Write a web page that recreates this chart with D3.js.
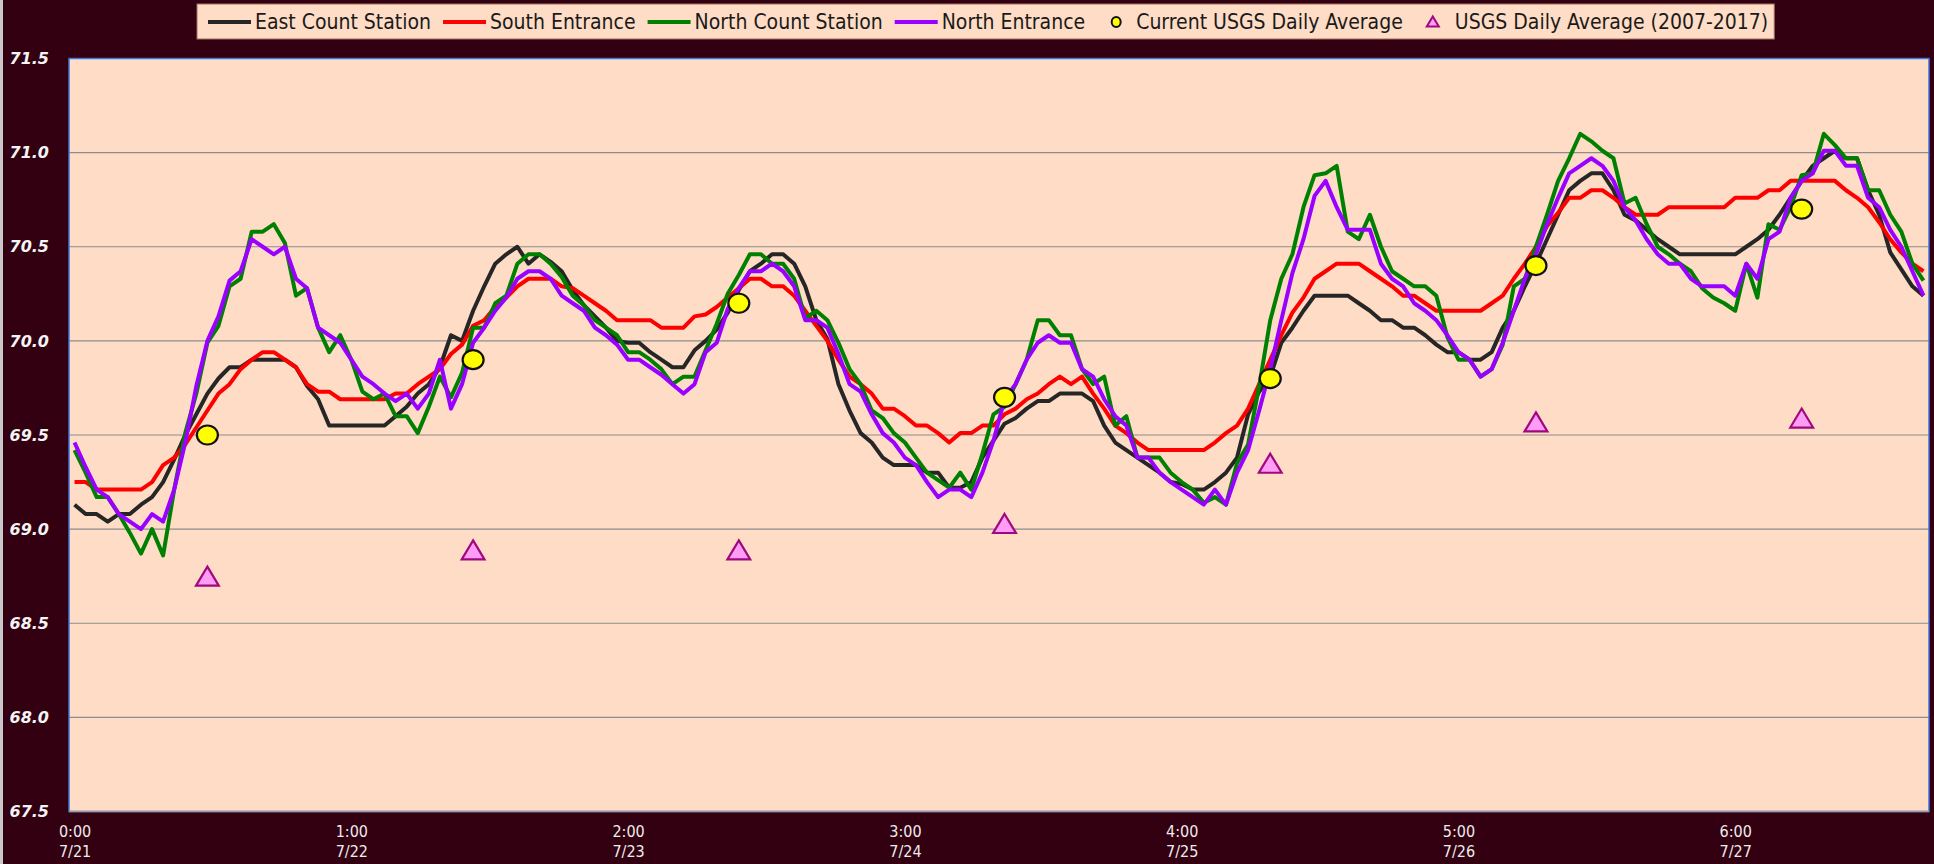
<!DOCTYPE html>
<html>
<head>
<meta charset="utf-8">
<script src="https://cdn.jsdelivr.net/npm/d3@7/dist/d3.min.js"></script>
<style>
  html, body { margin: 0; padding: 0; background: #320010; overflow: hidden; }
  svg { display: block; }
</style>
</head>
<body>
<script>
// hourly readings, 7/21 0:00 through 7/27 23:00

var eastCount = [
  69.13, 69.08, 69.08, 69.04, 69.08, 69.08, 69.13, 69.17, 69.25, 69.37, 69.50, 69.61, 69.72, 69.80, 69.86, 69.86, 69.90, 69.90, 69.90, 69.90, 69.86, 69.76, 69.69, 69.55, 69.55, 69.55, 69.55, 69.55, 69.55,
  69.60, 69.65, 69.72, 69.77, 69.86, 70.03, 70.00, 70.16, 70.29, 70.41, 70.46, 70.50, 70.41, 70.46, 70.42, 70.37, 70.27, 70.19, 70.13, 70.07, 70.00, 69.99, 69.99, 69.94, 69.90, 69.86, 69.86, 69.95,
  70.00, 70.06, 70.15, 70.27, 70.37, 70.41, 70.46, 70.46, 70.41, 70.29, 70.11, 70.01, 69.77, 69.63, 69.51, 69.46, 69.38, 69.34, 69.34, 69.34, 69.30, 69.30, 69.22, 69.22, 69.25, 69.38, 69.47, 69.56,
  69.59, 69.64, 69.68, 69.68, 69.72, 69.72, 69.72, 69.68, 69.55, 69.46, 69.42, 69.38, 69.34, 69.30, 69.25, 69.24, 69.21, 69.21, 69.25, 69.30, 69.38, 69.61, 69.73, 69.81, 69.99, 70.07, 70.16, 70.24,
  70.24, 70.24, 70.24, 70.20, 70.16, 70.11, 70.11, 70.07, 70.07, 70.03, 69.98, 69.94, 69.94, 69.90, 69.90, 69.94, 70.07, 70.16, 70.29, 70.41, 70.54, 70.67, 70.80, 70.85, 70.89, 70.89, 70.80, 70.67,
  70.64, 70.59, 70.54, 70.50, 70.46, 70.46, 70.46, 70.46, 70.46, 70.46, 70.50, 70.54, 70.59, 70.67, 70.76, 70.85, 70.93, 70.97, 71.01, 70.97, 70.97, 70.80, 70.67, 70.47, 70.38, 70.29, 70.24
];

var southEntrance = [
  69.25, 69.25, 69.21, 69.21, 69.21, 69.21, 69.21, 69.25, 69.34, 69.38, 69.45, 69.54, 69.63, 69.72, 69.77, 69.85, 69.90, 69.94, 69.94, 69.90, 69.86, 69.77, 69.73, 69.73, 69.69, 69.69, 69.69, 69.69, 69.69,
  69.72, 69.72, 69.77, 69.81, 69.85, 69.93, 69.98, 70.08, 70.11, 70.18, 70.23, 70.29, 70.33, 70.33, 70.33, 70.29, 70.28, 70.24, 70.20, 70.16, 70.11, 70.11, 70.11, 70.11, 70.07, 70.07, 70.07, 70.13,
  70.14, 70.18, 70.23, 70.28, 70.33, 70.33, 70.29, 70.29, 70.24, 70.16, 70.08, 70.00, 69.90, 69.81, 69.77, 69.72, 69.64, 69.64, 69.60, 69.55, 69.55, 69.51, 69.46, 69.51, 69.51, 69.55, 69.55, 69.61,
  69.64, 69.69, 69.72, 69.77, 69.81, 69.77, 69.81, 69.72, 69.64, 69.55, 69.51, 69.46, 69.42, 69.42, 69.42, 69.42, 69.42, 69.42, 69.46, 69.51, 69.55, 69.64, 69.77, 69.90, 70.03, 70.15, 70.23, 70.33,
  70.37, 70.41, 70.41, 70.41, 70.37, 70.33, 70.29, 70.24, 70.24, 70.20, 70.16, 70.16, 70.16, 70.16, 70.16, 70.20, 70.24, 70.33, 70.41, 70.50, 70.61, 70.68, 70.76, 70.76, 70.80, 70.80, 70.76, 70.71,
  70.67, 70.67, 70.67, 70.71, 70.71, 70.71, 70.71, 70.71, 70.71, 70.76, 70.76, 70.76, 70.80, 70.80, 70.85, 70.85, 70.85, 70.85, 70.85, 70.80, 70.76, 70.71, 70.63, 70.54, 70.47, 70.41, 70.37
];

var northCount = [
  69.42, 69.30, 69.17, 69.17, 69.08, 68.98, 68.87, 69.00, 68.86, 69.21, 69.51, 69.72, 69.99, 70.08, 70.29, 70.33, 70.58, 70.58, 70.62, 70.52, 70.24, 70.28, 70.07, 69.94, 70.03, 69.90, 69.73, 69.69, 69.72,
  69.60, 69.60, 69.51, 69.65, 69.81, 69.70, 69.83, 70.07, 70.07, 70.20, 70.24, 70.41, 70.46, 70.46, 70.41, 70.34, 70.24, 70.19, 70.11, 70.07, 70.03, 69.94, 69.94, 69.90, 69.85, 69.77, 69.81, 69.81,
  69.95, 70.09, 70.25, 70.35, 70.46, 70.46, 70.41, 70.41, 70.33, 70.12, 70.16, 70.11, 69.99, 69.85, 69.77, 69.63, 69.59, 69.51, 69.46, 69.38, 69.30, 69.26, 69.22, 69.30, 69.21, 69.40, 69.61, 69.65,
  69.77, 69.90, 70.11, 70.11, 70.03, 70.03, 69.85, 69.77, 69.81, 69.55, 69.60, 69.38, 69.38, 69.38, 69.30, 69.25, 69.21, 69.14, 69.17, 69.13, 69.35, 69.45, 69.76, 70.11, 70.33, 70.46, 70.71, 70.88,
  70.89, 70.93, 70.58, 70.54, 70.67, 70.50, 70.37, 70.33, 70.29, 70.29, 70.24, 70.02, 69.90, 69.90, 69.81, 69.85, 69.98, 70.29, 70.33, 70.50, 70.67, 70.85, 70.97, 71.10, 71.06, 71.01, 70.97, 70.73,
  70.76, 70.62, 70.50, 70.46, 70.41, 70.37, 70.28, 70.23, 70.20, 70.16, 70.41, 70.23, 70.62, 70.59, 70.71, 70.88, 70.89, 71.10, 71.04, 70.97, 70.97, 70.80, 70.80, 70.67, 70.58, 70.41, 70.32
];

var northEntrance = [
  69.46, 69.33, 69.21, 69.17, 69.08, 69.04, 69.00, 69.08, 69.04, 69.21, 69.46, 69.76, 70.00, 70.13, 70.32, 70.37, 70.54, 70.50, 70.46, 70.50, 70.33, 70.28, 70.07, 70.03, 69.99, 69.90, 69.81, 69.77, 69.72,
  69.68, 69.72, 69.64, 69.72, 69.90, 69.64, 69.77, 69.99, 70.07, 70.16, 70.23, 70.33, 70.37, 70.37, 70.33, 70.24, 70.20, 70.16, 70.07, 70.03, 69.98, 69.90, 69.90, 69.86, 69.82, 69.77, 69.72, 69.77,
  69.94, 69.99, 70.17, 70.28, 70.37, 70.37, 70.41, 70.37, 70.29, 70.11, 70.11, 70.07, 69.93, 69.77, 69.73, 69.61, 69.51, 69.46, 69.38, 69.34, 69.25, 69.17, 69.21, 69.21, 69.17, 69.30, 69.47, 69.69,
  69.77, 69.90, 69.99, 70.03, 69.99, 69.99, 69.85, 69.81, 69.69, 69.60, 69.55, 69.38, 69.38, 69.30, 69.25, 69.21, 69.17, 69.13, 69.21, 69.13, 69.30, 69.42, 69.63, 69.85, 70.11, 70.36, 70.54, 70.77,
  70.85, 70.71, 70.59, 70.59, 70.59, 70.41, 70.33, 70.29, 70.20, 70.16, 70.11, 70.03, 69.94, 69.90, 69.81, 69.85, 69.99, 70.16, 70.33, 70.46, 70.62, 70.76, 70.89, 70.93, 70.97, 70.93, 70.85, 70.71,
  70.64, 70.54, 70.46, 70.41, 70.41, 70.33, 70.29, 70.29, 70.29, 70.24, 70.41, 70.33, 70.54, 70.58, 70.76, 70.85, 70.89, 71.01, 71.01, 70.93, 70.93, 70.76, 70.71, 70.59, 70.50, 70.37, 70.24
];

// one USGS value per day, plotted at noon
var days = ["7/21", "7/22", "7/23", "7/24", "7/25", "7/26", "7/27"];
var usgsCurrent = [69.5, 69.9, 70.2, 69.7, 69.8, 70.4, 70.7];
var usgsAverage = [68.75, 68.89, 68.89, 69.03, 69.35, 69.57, 69.59];

// category labels every 25 hours, as excel shows them
var xTickHour = ["0:00", "1:00", "2:00", "3:00", "4:00", "5:00", "6:00"];
var xTickDate = ["7/21", "7/22", "7/23", "7/24", "7/25", "7/26", "7/27"];
var yTicks = [67.5, 68.0, 68.5, 69.0, 69.5, 70.0, 70.5, 71.0, 71.5];

var series = [
  { name: "East Count Station", values: eastCount, color: "#262626" },
  { name: "South Entrance", values: southEntrance, color: "#ff0000" },
  { name: "North Count Station", values: northCount, color: "#008000" },
  { name: "North Entrance", values: northEntrance, color: "#9900ff" }
];

var width = 1934, height = 864;
var margin = { top: 58.5, right: 5, bottom: 52.5, left: 69 };
var w = width - margin.left - margin.right;
var h = height - margin.top - margin.bottom;

var svg = d3.select("body").append("svg")
  .attr("width", width)
  .attr("height", height);

svg.append("rect")
  .attr("width", width).attr("height", height)
  .attr("fill", "#320010");
svg.append("rect")
  .attr("x", 0).attr("y", 0).attr("width", 3).attr("height", height)
  .attr("fill", "#c8c8c8");

var g = svg.append("g")
  .attr("transform", "translate(" + margin.left + "," + margin.top + ")");

var x = d3.scalePoint()
  .domain(d3.range(eastCount.length))
  .range([0, w])
  .padding(0.5);

var y = d3.scaleLinear()
  .domain([67.5, 71.5])
  .range([h, 0]);

g.append("rect")
  .attr("width", w).attr("height", h)
  .attr("fill", "#ffdcc5");

// gridlines
g.append("g")
  .selectAll("line").data(yTicks.slice(1, -1)).enter()
  .append("line")
  .attr("x1", 0).attr("x2", w)
  .attr("y1", function(d) { return y(d); })
  .attr("y2", function(d) { return y(d); })
  .attr("stroke", "#8c8c8c")
  .attr("stroke-width", 1.2);

g.append("rect")
  .attr("width", w).attr("height", h)
  .attr("fill", "none")
  .attr("stroke", "#3f74e0")
  .attr("stroke-width", 1.5);

g.append("line")
  .attr("x1", 0).attr("x2", w).attr("y1", h).attr("y2", h)
  .attr("stroke", "#9a9a9a").attr("stroke-width", 1.5);

// y axis
var yAxis = g.append("g")
  .call(d3.axisLeft(y).tickValues(yTicks).tickFormat(d3.format(".1f")).tickSize(0).tickPadding(20));
yAxis.select(".domain").remove();
yAxis.selectAll("text")
  .attr("fill", "#f4f4f4")
  .attr("font-family", "'DejaVu Sans', Verdana, sans-serif")
  .attr("font-size", 16)
  .attr("font-weight", "bold")
  .attr("font-style", "italic");

// x axis, two line labels
var tickIdx = xTickHour.map(function(d, i) { return i * 25; });
var xAxis = g.append("g")
  .attr("transform", "translate(0," + h + ")")
  .call(d3.axisBottom(x).tickValues(tickIdx).tickSize(0).tickFormat(""));
xAxis.select(".domain").remove();
xAxis.selectAll(".tick text").each(function(d, i) {
  var t = d3.select(this)
    .attr("y", 0)
    .attr("fill", "#ececec")
    .attr("font-family", "'Liberation Sans Narrow', 'DejaVu Sans Condensed', 'Arial Narrow', sans-serif")
    .attr("font-size", 16);
  t.append("tspan").attr("x", 0).attr("dy", 25).text(xTickHour[i]);
  t.append("tspan").attr("x", 0).attr("dy", 20).text(xTickDate[i]);
});

var line = d3.line()
  .x(function(d, i) { return x(i); })
  .y(function(d) { return y(d); });

g.selectAll(".series").data(series).enter()
  .append("path")
  .attr("class", "series")
  .attr("d", function(d) { return line(d.values); })
  .attr("fill", "none")
  .attr("stroke", function(d) { return d.color; })
  .attr("stroke-width", 4)
  .attr("stroke-linejoin", "round");

var noon = function(i) { return x(i * 24 + 12); };

var triangle = function(cx, cy, s) {
  var hw = s * 0.6, hh = s * 0.5;
  return "M" + cx + "," + (cy - hh) + "L" + (cx + hw) + "," + (cy + hh) + "L" + (cx - hw) + "," + (cy + hh) + "Z";
};

g.selectAll(".avg").data(usgsAverage).enter()
  .append("path")
  .attr("class", "avg")
  .attr("d", function(d, i) { return triangle(noon(i), y(d), 19); })
  .attr("fill", "#ff9cf5")
  .attr("stroke", "#a0087f")
  .attr("stroke-width", 2.2)
  .attr("stroke-linejoin", "miter");

g.selectAll(".cur").data(usgsCurrent).enter()
  .append("ellipse")
  .attr("class", "cur")
  .attr("cx", function(d, i) { return noon(i); })
  .attr("cy", function(d) { return y(d); })
  .attr("rx", 10.5).attr("ry", 9.5)
  .attr("fill", "#ffff00")
  .attr("stroke", "#111")
  .attr("stroke-width", 2.2);

// legend
var legendItems = series.map(function(s) { return { name: s.name, type: "line", color: s.color }; })
  .concat([{ name: "Current USGS Daily Average", type: "circle" },
           { name: "USGS Daily Average (2007-2017)", type: "triangle" }]);

var legend = svg.append("g");
var box = legend.append("rect")
  .attr("x", 197).attr("y", 4).attr("height", 35)
  .attr("fill", "#ffdcc5")
  .attr("stroke", "#a07060")
  .attr("stroke-width", 1);

var lx = 208, ly = 22;
legendItems.forEach(function(it) {
  if (it.type === "line") {
    legend.append("line")
      .attr("x1", lx).attr("x2", lx + 43).attr("y1", ly).attr("y2", ly)
      .attr("stroke", it.color).attr("stroke-width", 4);
    lx += 47;
  } else if (it.type === "circle") {
    lx += 14;
    legend.append("ellipse")
      .attr("cx", lx + 5).attr("cy", ly).attr("rx", 4.5).attr("ry", 5)
      .attr("fill", "#ffff00").attr("stroke", "#111").attr("stroke-width", 2);
    lx += 25;
  } else {
    lx += 12;
    legend.append("path")
      .attr("d", triangle(lx + 6, ly - 0.5, 10))
      .attr("fill", "#ff9cf5").attr("stroke", "#a0087f").attr("stroke-width", 2);
    lx += 28;
  }
  var t = legend.append("text")
    .attr("x", lx).attr("y", ly)
    .attr("dy", "0.35em")
    .attr("fill", "#1a1a1a")
    .attr("font-family", "'Liberation Sans Narrow', 'DejaVu Sans Condensed', 'Arial Narrow', sans-serif")
    .attr("font-size", 21)
    .text(it.name);
  lx += t.node().getComputedTextLength() + 12;
});
box.attr("width", lx - 197 - 6);
</script>
</body>
</html>
